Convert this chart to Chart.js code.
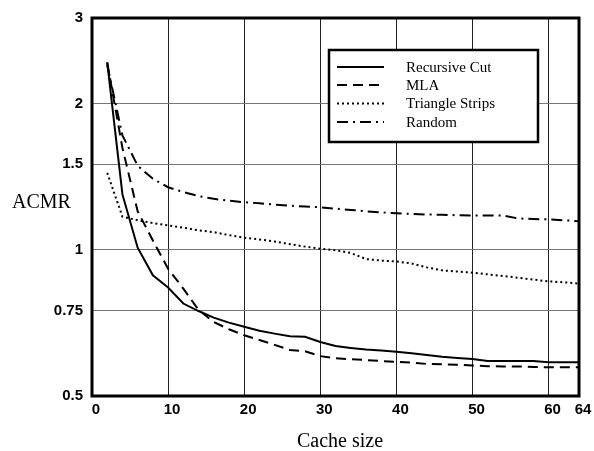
<!DOCTYPE html>
<html>
<head>
<meta charset="utf-8">
<script src="https://cdn.jsdelivr.net/npm/chart.js@4/dist/chart.umd.min.js"></script>
<style>
  html, body { margin: 0; padding: 0; background: #fff; }
  #wrap { width: 594px; height: 451px; }
</style>
</head>
<body>
<div id="wrap"><canvas id="myChart" width="594" height="451"></canvas></div>
<script>
// cache sizes (x) and ACMR for each method
var cacheSizes = [2, 4, 6, 8, 10, 12, 14, 16, 18, 20, 22, 24, 26, 28, 30, 32,
                  34, 36, 38, 40, 42, 44, 46, 48, 50, 52, 54, 56, 58, 60, 62, 64];

var recursiveCut = [2.43, 1.30, 1.01, 0.886, 0.836, 0.775, 0.748, 0.725, 0.708, 0.694, 0.681, 0.672, 0.664, 0.662, 0.646, 0.634,
                    0.628, 0.623, 0.620, 0.617, 0.612, 0.607, 0.602, 0.599, 0.596, 0.590, 0.590, 0.590, 0.590, 0.587, 0.587, 0.587];

var mla = [2.43, 1.62, 1.20, 1.045, 0.914, 0.832, 0.752, 0.710, 0.686, 0.667, 0.652, 0.637, 0.622, 0.618, 0.604, 0.598,
           0.595, 0.593, 0.590, 0.588, 0.586, 0.582, 0.581, 0.580, 0.578, 0.576, 0.575, 0.575, 0.574, 0.573, 0.573, 0.573];

var triangleStrips = [1.44, 1.17, 1.15, 1.135, 1.122, 1.11, 1.097, 1.087, 1.072, 1.059, 1.05, 1.04, 1.027, 1.015, 1.005, 0.998,
                      0.985, 0.957, 0.95, 0.946, 0.937, 0.92, 0.907, 0.902, 0.897, 0.89, 0.883, 0.876, 0.868, 0.861, 0.857, 0.852];

var random = [2.40, 1.72, 1.49, 1.40, 1.345, 1.315, 1.29, 1.273, 1.262, 1.253, 1.246, 1.239, 1.232, 1.228, 1.223, 1.215,
              1.208, 1.20, 1.194, 1.189, 1.185, 1.182, 1.18, 1.178, 1.176, 1.176, 1.176, 1.16, 1.157, 1.155, 1.15, 1.145];

var xTicks = [0, 10, 20, 30, 40, 50, 60, 64];
var yTicks = [0.5, 0.75, 1, 1.5, 2, 3];

function pts(values) {
    return values.map(function (v, i) { return { x: cacheSizes[i], y: v }; });
}

function series(label, values, dash) {
    return {
        label: label,
        data: pts(values),
        borderColor: '#000',
        borderWidth: 2,
        borderDash: dash,
        pointRadius: 0,
        fill: false,
        tension: 0
    };
}

// frame, axis titles and the boxed legend
var decorations = {
    id: 'decorations',
    afterDraw: function (chart) {
        var ctx = chart.ctx;
        var a = chart.chartArea;
        ctx.save();
        ctx.strokeStyle = '#000';
        ctx.lineWidth = 3;
        ctx.setLineDash([]);
        ctx.strokeRect(a.left, a.top, a.right - a.left, a.bottom - a.top);

        ctx.fillStyle = '#000';
        ctx.font = '20px "Liberation Serif"';
        ctx.textBaseline = 'alphabetic';
        ctx.textAlign = 'left';
        ctx.fillText('ACMR', 12, 208);
        ctx.textAlign = 'center';
        ctx.fillText('Cache size', 340, 447);

        // legend box
        var bx = 329, by = 50, bw = 209, bh = 92;
        ctx.fillStyle = '#fff';
        ctx.fillRect(bx, by, bw, bh);
        ctx.lineWidth = 2.5;
        ctx.strokeRect(bx, by, bw, bh);
        var rows = [67, 85, 103.5, 122];
        ctx.font = '15px "Liberation Serif"';
        ctx.textAlign = 'left';
        ctx.textBaseline = 'middle';
        chart.data.datasets.forEach(function (ds, i) {
            ctx.beginPath();
            ctx.lineWidth = 2;
            ctx.setLineDash(ds.borderDash || []);
            ctx.moveTo(337, rows[i]);
            ctx.lineTo(384, rows[i]);
            ctx.stroke();
            ctx.setLineDash([]);
            ctx.fillStyle = '#000';
            ctx.fillText(ds.label, 406, rows[i] + 1);
        });
        ctx.restore();
    }
};

var ctx = document.getElementById('myChart').getContext('2d');
var myChart = new Chart(ctx, {
    type: 'line',
    data: {
        datasets: [
            series('Recursive Cut', recursiveCut, []),
            series('MLA', mla, [10, 6]),
            series('Triangle Strips', triangleStrips, [2, 3]),
            series('Random', random, [11, 5, 2, 5])
        ]
    },
    options: {
        responsive: false,
        animation: false,
        layout: { padding: { left: 0, right: 15, top: 17, bottom: 0 } },
        plugins: {
            legend: { display: false },
            tooltip: { enabled: false }
        },
        scales: {
            x: {
                type: 'linear',
                min: 0,
                max: 64,
                afterBuildTicks: function (scale) {
                    scale.ticks = xTicks.map(function (v) { return { value: v }; });
                },
                afterFit: function (scale) { scale.height = 55; },
                grid: { color: '#222', lineWidth: 1, drawTicks: false },
                border: { display: false },
                ticks: {
                    color: '#000',
                    padding: 5,
                    labelOffset: 4,
                    maxRotation: 0,
                    autoSkip: false,
                    font: { family: '"Liberation Sans"', weight: 'bold', size: 15 },
                    callback: function (v) { return String(v); }
                }
            },
            y: {
                type: 'logarithmic',
                min: 0.5,
                max: 3,
                afterBuildTicks: function (scale) {
                    scale.ticks = yTicks.map(function (v) { return { value: v }; });
                },
                afterFit: function (scale) { scale.width = 92; },
                grid: { color: '#777', lineWidth: 1, drawTicks: false },
                border: { display: false },
                ticks: {
                    color: '#000',
                    padding: 9,
                    autoSkip: false,
                    font: { family: '"Liberation Sans"', weight: 'bold', size: 15 },
                    callback: function (v) { return String(v); }
                }
            }
        }
    },
    plugins: [decorations]
});
</script>
</body>
</html>
